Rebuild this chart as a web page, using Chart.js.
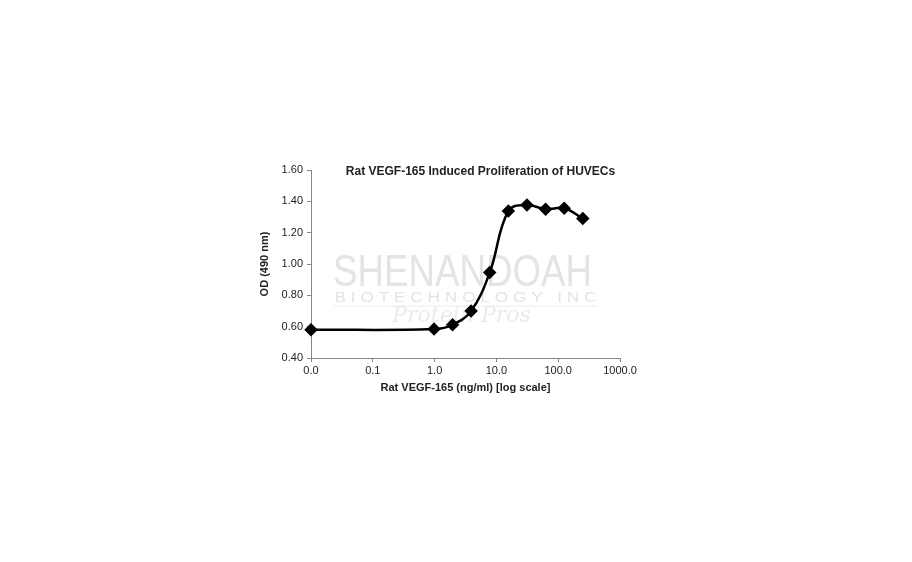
<!DOCTYPE html>
<html>
<head>
<meta charset="utf-8">
<script src="https://cdn.jsdelivr.net/npm/chart.js@4"></script>
<style>
  html, body { margin: 0; padding: 0; background: #fff; }
  #wrap { width: 912px; height: 562px; }
</style>
</head>
<body>
<div id="wrap"><canvas id="vegfChart" width="912" height="562"></canvas></div>
<script>
// concentration (ng/ml) and OD at 490 nm
const concentrations = [0.01, 0.98, 1.95, 3.9, 7.8, 15.6, 31.25, 62.5, 125, 250];
const odValues = [0.58, 0.585, 0.612, 0.70, 0.946, 1.338, 1.377, 1.35, 1.356, 1.29];

const xTickValues = [0.01, 0.1, 1, 10, 100, 1000];
const xTickLabels = ["0.0", "0.1", "1.0", "10.0", "100.0", "1000.0"];

const chartTitle = "Rat VEGF-165 Induced Proliferation of HUVECs";
const xTitle = "Rat VEGF-165 (ng/ml) [log scale]";
const yTitle = "OD (490 nm)";

const textColor = "#222";
const axisColor = "#868686";

// squeeze a line of text into a given width (logo text is condensed)
function fitText(ctx, text, x, y, width) {
  const w = ctx.measureText(text).width;
  ctx.save();
  ctx.translate(x, y);
  ctx.scale(width / w, 1);
  ctx.fillText(text, 0, 0);
  ctx.restore();
}

// title sits inside the plot box like the Excel original, plus the faint logo text
const overlayPlugin = {
  id: "overlay",
  beforeDatasetsDraw(chart) {
    const { ctx, chartArea } = chart;
    const cx = (chartArea.left + chartArea.right) / 2;
    const cy = (chartArea.top + chartArea.bottom) / 2;
    ctx.save();
    ctx.textAlign = "center";
    ctx.textBaseline = "middle";
    ctx.fillStyle = "#e4e4e4";
    ctx.font = "44px 'Liberation Sans', Arial";
    fitText(ctx, "SHENANDOAH", cx - 3, cy + 10, 259);
    ctx.font = "14px 'Liberation Sans', Arial";
    fitText(ctx, "B I O T E C H N O L O G Y   I N C", cx, cy + 34, 262);
    ctx.strokeStyle = "#ececec";
    ctx.lineWidth = 1;
    ctx.beginPath();
    ctx.moveTo(cx - 132, cy + 42);
    ctx.lineTo(cx + 132, cy + 42);
    ctx.stroke();
    ctx.font = "italic 22px 'DejaVu Serif', serif";
    ctx.fillStyle = "#ebebeb";
    ctx.fillText("Protein Pros", cx - 4, cy + 52);
    ctx.restore();
  },
  afterDraw(chart) {
    const { ctx, chartArea } = chart;
    ctx.save();
    ctx.fillStyle = textColor;
    ctx.textAlign = "center";
    ctx.textBaseline = "middle";
    ctx.font = "bold 12px 'Liberation Sans', Arial";
    ctx.fillText(chartTitle, (chartArea.left + chartArea.right) / 2 + 15, chartArea.top + 2);
    ctx.restore();
  }
};

const ctx = document.getElementById("vegfChart").getContext("2d");

new Chart(ctx, {
  type: "line",
  data: {
    datasets: [{
      data: concentrations.map((c, i) => ({ x: c, y: odValues[i] })),
      borderColor: "#000",
      backgroundColor: "#000",
      borderWidth: 2.5,
      tension: 0.4,
      pointStyle: "rectRot",
      pointRadius: 5,
      pointHoverRadius: 5,
      clip: false,
      fill: false
    }]
  },
  options: {
    responsive: false,
    animation: false,
    layout: { padding: { left: 258, right: 292, top: 170, bottom: 167 } },
    plugins: {
      legend: { display: false },
      tooltip: { enabled: false }
    },
    scales: {
      x: {
        type: "logarithmic",
        min: 0.01,
        max: 1000,
        afterBuildTicks: scale => {
          scale.ticks = xTickValues.map(v => ({ value: v }));
        },
        afterFit: scale => { scale.height = 37; },
        ticks: {
          autoSkip: false,
          maxRotation: 0,
          padding: 2,
          color: textColor,
          font: { family: "'Liberation Sans', Arial", size: 11 },
          callback: (val, idx) => xTickLabels[idx]
        },
        grid: { drawOnChartArea: false, drawTicks: true, tickLength: 4, color: axisColor },
        border: { color: axisColor, width: 1 },
        title: {
          display: true,
          text: xTitle,
          color: textColor,
          padding: 0,
          font: { family: "'Liberation Sans', Arial", size: 11, weight: "bold" }
        }
      },
      y: {
        min: 0.4,
        max: 1.6,
        afterFit: scale => { scale.width = 53; },
        ticks: {
          stepSize: 0.2,
          padding: 4,
          color: textColor,
          font: { family: "'Liberation Sans', Arial", size: 11 },
          callback: v => v.toFixed(2)
        },
        grid: { drawOnChartArea: false, drawTicks: true, tickLength: 4, color: axisColor },
        border: { color: axisColor, width: 1 },
        title: {
          display: true,
          text: yTitle,
          color: textColor,
          padding: 0,
          font: { family: "'Liberation Sans', Arial", size: 11, weight: "bold" }
        }
      }
    }
  },
  plugins: [overlayPlugin]
});
</script>
</body>
</html>
